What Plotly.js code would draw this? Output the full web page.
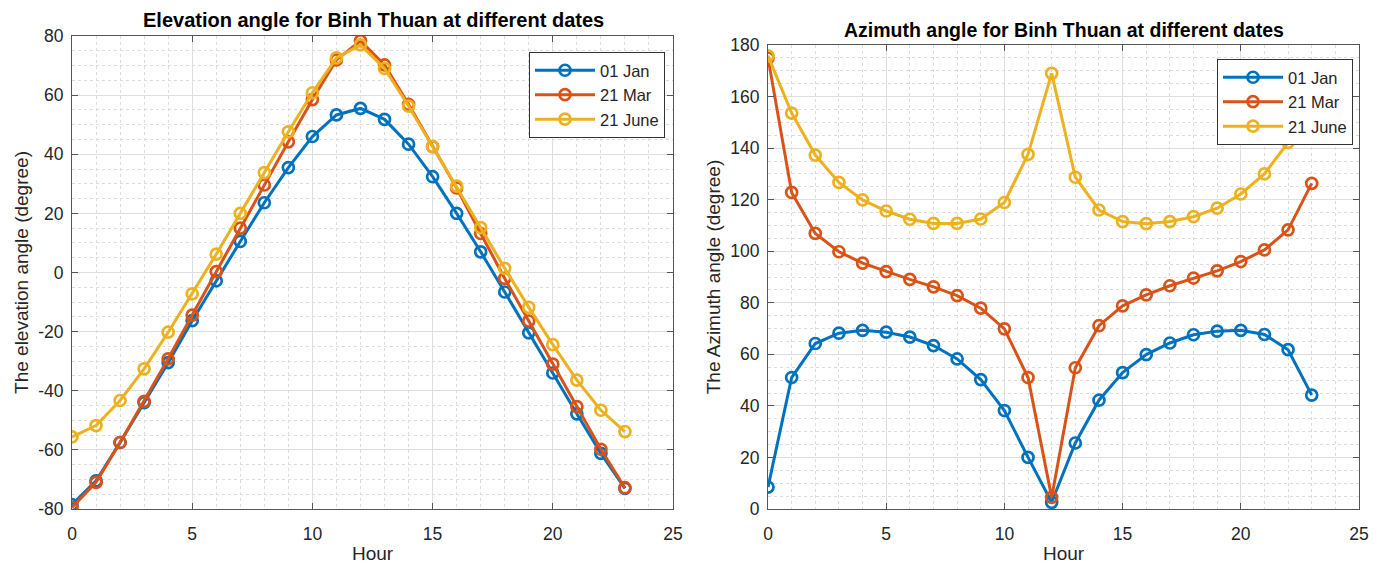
<!DOCTYPE html>
<html>
<head>
<meta charset="utf-8">
<script src="https://cdn.plot.ly/plotly-3.0.1.min.js"></script>
<style>html,body{margin:0;padding:0;background:#fff;}#chart{width:1384px;height:564px;}</style>
</head>
<body>
<div id="chart"></div>
<script>
const hours = [0,1,2,3,4,5,6,7,8,9,10,11,12,13,14,15,16,17,18,19,20,21,22,23];
const seriesNames = ['01 Jan','21 Mar','21 June'];

// Elevation angle (degree)
const elevJan  = [-78.5,-70.5,-57.5,-44,-30.5,-16.3,-2.8,10.5,23.6,35.5,46,53.3,55.5,51.8,43.4,32.4,20,7,-6.6,-20.4,-34,-47.8,-61.2,-73];
const elevMar  = [-79.5,-71,-57.5,-43.6,-29.2,-14.4,0.3,15,29.6,44.2,58.5,71.9,78.4,70.2,56.9,42.6,28.6,13.2,-2,-16.4,-31,-45.4,-59.8,-72.8];
const elevJune = [-55.6,-51.8,-43.3,-32.6,-20.2,-7.2,6.2,20,33.8,47.6,60.8,72.6,77,69,56.3,42.6,29.2,15.2,1.4,-11.8,-24.4,-36.4,-46.6,-53.8];

// Azimuth angle (degree)
const aziJan  = [8.5,51,64.2,68.2,69.3,68.6,66.7,63.4,58.2,50.2,38.2,20,2.6,25.6,42.2,52.9,59.9,64.4,67.6,69,69.3,67.7,61.8,44.2];
const aziMar  = [175,122.8,106.9,99.8,95.4,92.1,89.1,86.2,82.8,77.9,69.9,51,4.5,54.8,71.1,78.8,83.1,86.6,89.6,92.4,96,100.5,108.3,126.3];
const aziJune = [175.8,153.6,137.3,126.7,119.9,115.6,112.4,110.8,110.8,112.5,118.9,137.6,169,128.7,116,111.5,110.7,111.5,113.4,116.7,122.2,130,142.2,160];

// Tick labels
const hourTicks = [0,5,10,15,20,25];
const hourTickText = ['0','5','10','15','20','25'];
const elevTicks = [-80,-60,-40,-20,0,20,40,60,80];
const elevTickText = ['-80','-60','-40','-20','0','20','40','60','80'];
const aziTicks = [0,20,40,60,80,100,120,140,160,180];
const aziTickText = ['0','20','40','60','80','100','120','140','160','180'];

const colors = ['#0072BD','#D95319','#EDB120'];
const fontFam = 'Liberation Sans, Arial, sans-serif';

function mk(y, i, xa, ya, leg) {
  return {
    x: hours, y: y, name: seriesNames[i], type: 'scatter', mode: 'lines+markers',
    xaxis: xa, yaxis: ya, legend: leg,
    line: {color: colors[i], width: 3},
    marker: {symbol: 'circle-open', size: 11, color: colors[i], line: {width: 2.7, color: colors[i]}}
  };
}

const traces = [
  mk(elevJan,0,'x','y','legend'), mk(elevMar,1,'x','y','legend'), mk(elevJune,2,'x','y','legend'),
  mk(aziJan,0,'x2','y2','legend2'), mk(aziMar,1,'x2','y2','legend2'), mk(aziJune,2,'x2','y2','legend2')
];

function xax(dom, anchor) {
  return {
    domain: dom, anchor: anchor, range: [0,25],
    tickmode: 'array', tickvals: hourTicks, ticktext: hourTickText,
    showline: true, linecolor: '#555', linewidth: 1, mirror: 'ticks',
    ticks: 'inside', ticklen: 6, tickcolor: '#555', ticklabelstandoff: 9,
    showgrid: true, gridcolor: '#dedede', gridwidth: 1, zeroline: false,
    minor: {dtick: 1, tick0: 0, showgrid: true, gridcolor: '#dcdcdc', griddash: 'dot', gridwidth: 1, ticks: ''},
    tickfont: {family: fontFam, size: 17.5, color: '#262626'},
    title: {text: 'Hour', font: {family: fontFam, size: 19, color: '#262626'}, standoff: 8},
    fixedrange: true
  };
}
function yax(dom, anchor, rng, tv, tt, title) {
  return {
    domain: dom, anchor: anchor, range: rng,
    tickmode: 'array', tickvals: tv, ticktext: tt,
    showline: true, linecolor: '#555', linewidth: 1, mirror: 'ticks',
    ticks: 'inside', ticklen: 6, tickcolor: '#555', ticklabelstandoff: 4,
    showgrid: true, gridcolor: '#dedede', gridwidth: 1, zeroline: false,
    minor: {dtick: 5, tick0: 0, showgrid: true, gridcolor: '#dcdcdc', griddash: 'dot', gridwidth: 1, ticks: ''},
    tickfont: {family: fontFam, size: 17.5, color: '#262626'},
    title: {text: title, font: {family: fontFam, size: 19, color: '#262626'}, standoff: 4},
    fixedrange: true
  };
}

const legendStyle = (x, y) => ({
  x: x, y: y, xanchor: 'left', yanchor: 'top', xref: 'paper', yref: 'paper',
  bgcolor: '#ffffff', bordercolor: '#333', borderwidth: 1,
  font: {family: fontFam, size: 16.5, color: '#262626'},
  tracegroupgap: 0, itemwidth: 60
});

const layout = {
  width: 1384, height: 564,
  margin: {l: 0, r: 0, t: 0, b: 0},
  paper_bgcolor: '#ffffff', plot_bgcolor: '#ffffff',
  showlegend: true,
  xaxis: xax([72/1384, 673/1384], 'y'),
  yaxis: yax([1-509/564, 1-36/564], 'x', [-80,80], elevTicks, elevTickText, 'The elevation angle (degree)'),
  xaxis2: xax([768/1384, 1359/1384], 'y2'),
  yaxis2: yax([1-509/564, 1-45/564], 'x2', [0,180], aziTicks, aziTickText, 'The Azimuth angle (degree)'),
  legend: legendStyle(529/1384, 1-52/564),
  legend2: legendStyle(1217/1384, 1-59/564),
  annotations: [
    {text: '<b>Elevation angle for Binh Thuan at different dates</b>', xref: 'paper', yref: 'paper',
     x: 373/1384, y: 1-20/564, xanchor: 'center', yanchor: 'middle', showarrow: false,
     font: {family: fontFam, size: 20, color: '#000'}},
    {text: '<b>Azimuth angle for Binh Thuan at different dates</b>', xref: 'paper', yref: 'paper',
     x: 1064/1384, y: 1-30/564, xanchor: 'center', yanchor: 'middle', showarrow: false,
     font: {family: fontFam, size: 19.5, color: '#000'}}
  ]
};

Plotly.newPlot('chart', traces, layout, {displayModeBar: false, staticPlot: true});
</script>
</body>
</html>
